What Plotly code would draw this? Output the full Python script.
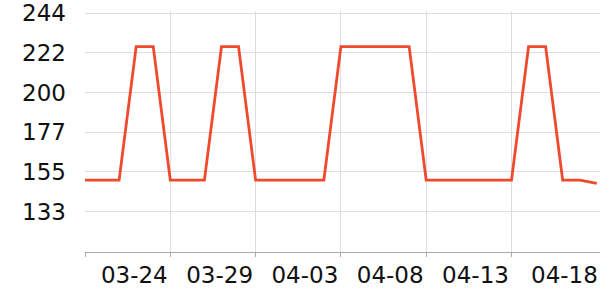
import plotly.graph_objects as go
import pandas as pd

dates = pd.date_range("2024-03-19", "2024-04-18", freq="D").strftime("%Y-%m-%d").tolist()
values = [150.8, 150.8, 150.8, 225.4, 225.4, 150.8, 150.8, 150.8, 225.4, 225.4,
          150.8, 150.8, 151.2, 151.2, 150.8, 225.4, 225.4, 225.4, 225.4, 225.4,
          150.8, 150.8, 150.8, 150.8, 150.8, 150.8, 225.4, 225.4, 150.8, 150.8, 148.9]

x_tickvals = ["2024-03-19", "2024-03-24", "2024-03-29", "2024-04-03", "2024-04-08", "2024-04-13"]
x_ticktext = ["", "03-24", "03-29", "04-03", "04-08", "04-13"]
last_label_date = "2024-04-18"
last_label_text = "04-18"
y_tickvals = [133.17, 155.33, 177.5, 199.67, 221.83, 244]
y_ticktext = ["133", "155", "177", "200", "222", "244"]

fig = go.Figure(go.Scatter(x=dates, y=values, mode="lines",
                           line=dict(color="#ef4a2d", width=2.8)))

font = dict(family="DejaVu Sans", size=23, color="#111")
fig.update_layout(
    width=600, height=300,
    margin=dict(l=85, r=0, t=8, b=48),
    plot_bgcolor="white", paper_bgcolor="white",
    showlegend=False,
    font=font,
)
fig.update_xaxes(
    type="date",
    range=["2024-03-19", "2024-04-18 04:30"],
    tickvals=x_tickvals, ticktext=x_ticktext,
    showgrid=True, gridcolor="#dddddd", gridwidth=1,
    showline=True, linecolor="#aaaaaa", linewidth=1,
    ticks="outside", ticklen=4, tickcolor="#aaaaaa",
    ticklabelshift=-36, ticklabelstandoff=-2,
    ticklabeloverflow="allow",
    tickfont=font, zeroline=False,
)
fig.update_yaxes(
    range=[110.6, 245.3],
    tickvals=y_tickvals, ticktext=y_ticktext,
    showgrid=True, gridcolor="#dddddd", gridwidth=1,
    showline=False, ticks="", ticklabelstandoff=18,
    ticklabeloverflow="allow",
    tickfont=font, zeroline=False,
)
fig.add_annotation(x=last_label_date, y=0, xref="x", yref="paper",
                   text=last_label_text, showarrow=False,
                   xanchor="right", yanchor="top", yshift=-8, xshift=3,
                   font=font)
fig.write_html("out.html")
